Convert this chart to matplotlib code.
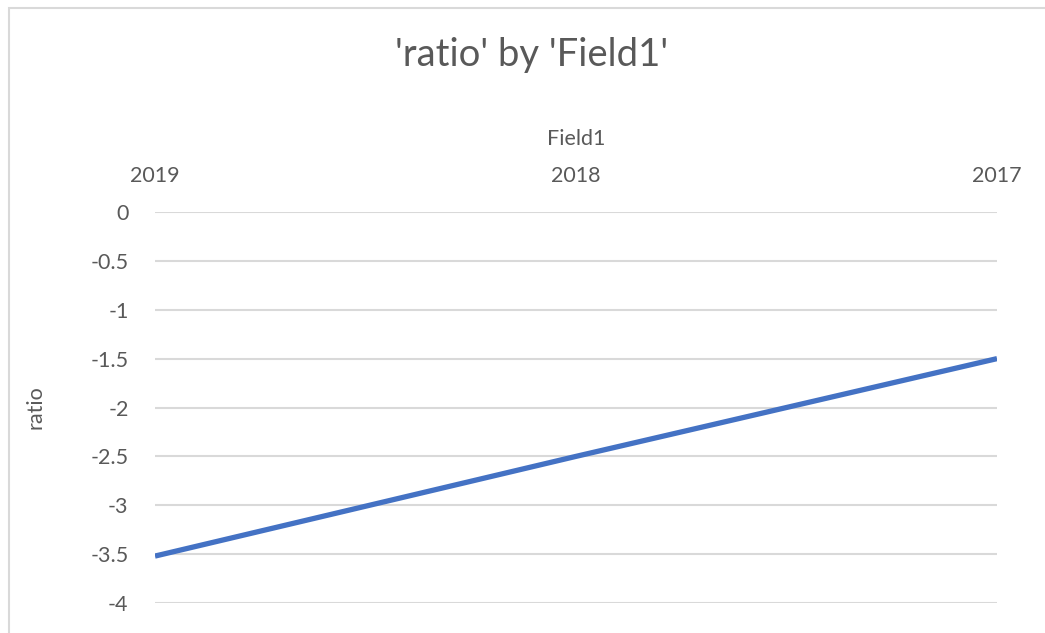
import matplotlib.pyplot as plt
from matplotlib.patches import Rectangle

years = ['2019', '2018', '2017']
ratio = [-3.52, -2.5, -1.5]
yticks = [0, -0.5, -1, -1.5, -2, -2.5, -3, -3.5, -4]

W, H = 1045, 633
TEXT = '#595959'
plt.rcParams['font.family'] = ['Lato', 'DejaVu Sans']

fig = plt.figure(figsize=(W / 100, H / 100), dpi=100)
ax = fig.add_axes([155 / W, (H - 603) / H, (997 - 155) / W, (603 - 212) / H])

x = list(range(len(years)))
ax.plot(x, ratio, color='#4472C4', lw=3.8, solid_capstyle='butt')

ax.set_xlim(0, len(years) - 1)
ax.set_ylim(-4, 0)
ax.set_yticks(yticks)
ax.set_yticklabels([f'{v:g}' for v in yticks])
ax.set_xticks(x)
ax.set_xticklabels(years)
ax.xaxis.tick_top()
ax.xaxis.set_label_position('top')
ax.tick_params(length=0, labelsize=15.5, labelcolor=TEXT)
ax.tick_params(axis='y', pad=19)
ax.tick_params(axis='x', pad=19)
for s in ax.spines.values():
    s.set_visible(False)
ax.grid(axis='y', color='#d9d9d9', lw=1.5)
ax.set_axisbelow(True)

ax.set_xlabel('Field1', fontsize=15.5, color=TEXT, labelpad=15)
ax.set_ylabel('ratio', fontsize=15.5, color=TEXT, labelpad=32)
fig.text(532 / W, 1 - 55 / H, "'ratio' by 'Field1'", ha='center', va='center',
         fontsize=27.5, color=TEXT)

# chart area outline
fig.patches.append(Rectangle((9 / W, -0.1), 1.2, 1.1 - 8 / H,
                             transform=fig.transFigure, fill=False,
                             ec='#d9d9d9', lw=1.5))

fig.savefig('out.png', dpi=100)
